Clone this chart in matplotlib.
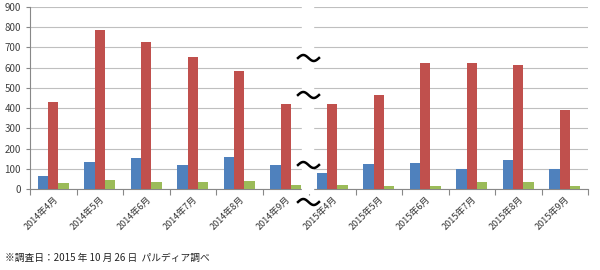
import matplotlib.pyplot as plt
from matplotlib.lines import Line2D
import numpy as np

plt.rcParams['font.family'] = ['Noto Sans CJK JP', 'DejaVu Sans']

months = ['2014年4月', '2014年5月', '2014年6月', '2014年7月', '2014年8月', '2014年9月',
          '2015年4月', '2015年5月', '2015年6月', '2015年7月', '2015年8月', '2015年9月']
blue_vals = [63, 133, 155, 120, 158, 120, 78, 123, 130, 100, 145, 97]
red_vals = [428, 788, 728, 653, 586, 421, 421, 466, 625, 621, 613, 391]
green_vals = [30, 45, 37, 37, 40, 20, 22, 17, 17, 33, 33, 13]
note = '※調査日：2015 年 10 月 26 日  パルディア調べ'

my_colors = ['#4F81BD', '#C0504D', '#9BBB59']

fig = plt.figure(figsize=(6, 2.7), dpi=100)
ax = fig.add_axes([0.05, 0.30, 0.93, 0.674])

x = np.arange(len(months))
w = 0.22
for i, (vals, c) in enumerate(zip([blue_vals, red_vals, green_vals], my_colors)):
    ax.bar(x + (i - 1) * w, vals, width=w, color=c, zorder=3)

ax.set_xlim(-0.5, len(months) - 0.5)
ax.set_ylim(0, 900)
ax.set_yticks(range(0, 901, 100))
ax.grid(axis='y', color='#BFBFBF', linewidth=0.8, zorder=0)

ax.set_xticks(np.arange(-0.5, len(months), 1))
ax.set_xticklabels([])
ax.set_xticks(x, minor=True)
ax.set_xticklabels(months, minor=True, rotation=45, ha='right', va='top',
                   rotation_mode='anchor', fontsize=6.5, color='#333333')
ax.tick_params(axis='x', which='major', length=4, color='#888888')
ax.tick_params(axis='x', which='minor', length=0, pad=4)
ax.tick_params(axis='y', length=3, color='#888888', labelsize=7, labelcolor='#404040')

for s in ['top', 'right']:
    ax.spines[s].set_visible(False)
ax.spines['left'].set_color('#888888')
ax.spines['bottom'].set_color('#888888')

# break band with wave marks
fig.patches.append(plt.Rectangle((302 / 600, 1 - 193 / 270), 11 / 600, 193 / 270,
                                 transform=fig.transFigure, color='white', zorder=5))
t = np.linspace(0, 2 * np.pi, 40)
wx = 298 + 21 * t / (2 * np.pi)
for yy in [58, 95, 165, 202]:
    wy = yy - 3 * np.sin(t)
    fig.add_artist(Line2D(wx / 600, 1 - wy / 270, color='black', linewidth=1.8,
                          transform=fig.transFigure, zorder=6))

fig.text(0.008, 1 - 258 / 270, note, fontsize=7, color='#222222', va='center')

fig.savefig('out.png', dpi=100)
